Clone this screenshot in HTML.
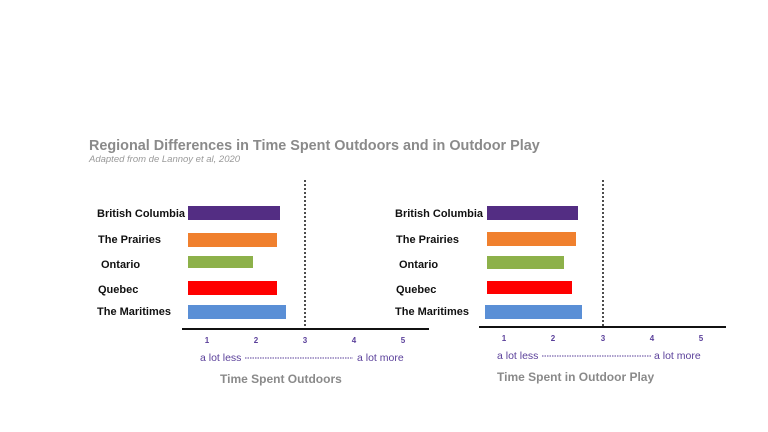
<!DOCTYPE html>
<html><head><style>
body{margin:0;width:768px;height:432px;background:#fff;overflow:hidden;position:relative;font-family:"Liberation Sans",sans-serif}
</style></head><body>
<svg width="768" height="432" style="position:absolute;left:0;top:0" font-family="Liberation Sans, sans-serif">
<text x="89" y="150" font-size="14.4" font-weight="bold" fill="#8a8a8a">Regional Differences in Time Spent Outdoors and in Outdoor Play</text>
<text x="89" y="162" font-size="9.5" font-style="italic" fill="#9a9a9a">Adapted from de Lannoy et al, 2020</text>
<g font-size="11" font-weight="bold" fill="#111">
<text x="97" y="217">British Columbia</text>
<text x="98" y="243">The Prairies</text>
<text x="101" y="268">Ontario</text>
<text x="98" y="293">Quebec</text>
<text x="97" y="315">The Maritimes</text>
<text x="395" y="217">British Columbia</text>
<text x="396" y="243">The Prairies</text>
<text x="399" y="268">Ontario</text>
<text x="396" y="293">Quebec</text>
<text x="395" y="315">The Maritimes</text>
</g>
<rect x="188" y="206" width="92" height="14" fill="#532d83"/>
<rect x="188" y="233" width="89" height="14" fill="#f0802e"/>
<rect x="188" y="256" width="65" height="12" fill="#8db14a"/>
<rect x="188" y="281" width="89" height="14" fill="#fe0000"/>
<rect x="188" y="305" width="98" height="14" fill="#5a8fd6"/>
<rect x="487" y="206" width="91" height="14" fill="#532d83"/>
<rect x="487" y="232" width="89" height="14" fill="#f0802e"/>
<rect x="487" y="256" width="77" height="13" fill="#8db14a"/>
<rect x="487" y="281" width="85" height="13" fill="#fe0000"/>
<rect x="485" y="305" width="97" height="14" fill="#5a8fd6"/>
<line x1="305" y1="180" x2="305" y2="330" stroke="#111" stroke-width="1.5" stroke-dasharray="2,2"/>
<line x1="603" y1="180" x2="603" y2="328" stroke="#111" stroke-width="1.5" stroke-dasharray="2,2"/>
<line x1="182" y1="329" x2="429" y2="329" stroke="#111" stroke-width="2"/>
<line x1="479" y1="327" x2="726" y2="327" stroke="#111" stroke-width="2"/>
<g font-size="8" font-weight="bold" fill="#5a3f9a" text-anchor="middle">
<text x="207" y="343">1</text><text x="256" y="343">2</text><text x="305" y="343">3</text><text x="354" y="343">4</text><text x="403" y="343">5</text>
<text x="504" y="341">1</text><text x="553" y="341">2</text><text x="603" y="341">3</text><text x="652" y="341">4</text><text x="701" y="341">5</text>
</g>
<g font-size="10.5" fill="#5a3f9a">
<text x="200" y="361">a lot less</text>
<line x1="245" y1="358" x2="353" y2="358" stroke="#5a3f9a" stroke-width="1" stroke-dasharray="1.5,1"/>
<text x="357" y="361">a lot more</text>
<text x="497" y="359">a lot less</text>
<line x1="542" y1="356" x2="651" y2="356" stroke="#5a3f9a" stroke-width="1" stroke-dasharray="1.5,1"/>
<text x="654" y="359">a lot more</text>
</g>
<g font-size="12" font-weight="bold" fill="#8a8a8a">
<text x="220" y="383">Time Spent Outdoors</text>
<text x="497" y="381">Time Spent in Outdoor Play</text>
</g>
</svg>
</body></html>
